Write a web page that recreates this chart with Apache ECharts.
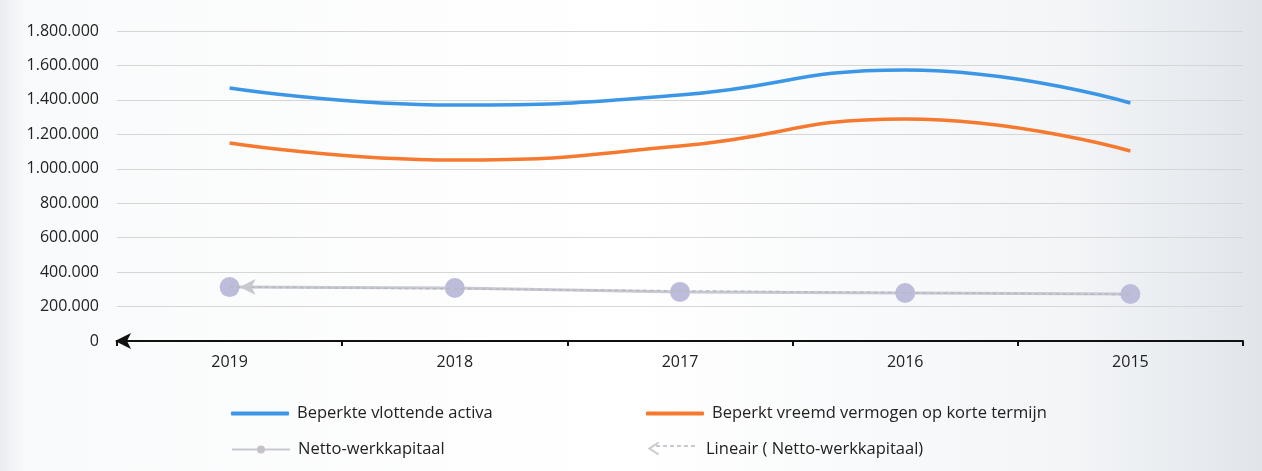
<!DOCTYPE html>
<html>
<head>
<meta charset="utf-8">
<script src="https://cdn.jsdelivr.net/npm/echarts@6/dist/echarts.min.js"></script>
<style>
html,body{margin:0;padding:0;}
#c{width:1262px;height:471px;}
</style>
</head>
<body>
<div id="c"></div>
<script>
const categories = ['2019', '2018', '2017', '2016', '2015'];
const vlottendeActiva = [1469000, 1370000, 1428000, 1574000, 1382000];
const vreemdVermogen = [1150000, 1051000, 1132000, 1289000, 1103000];
const nettoWerkkapitaal = [313000, 308000, 285000, 279000, 273000];
const seriesNames = ['Beperkte vlottende activa', 'Beperkt vreemd vermogen op korte termijn', 'Netto-werkkapitaal', 'Lineair ( Netto-werkkapitaal)'];

// Linear trend (least squares) of Netto-werkkapitaal, as the spreadsheet trendline does
const n = nettoWerkkapitaal.length;
let sx = 0, sy = 0, sxy = 0, sxx = 0;
nettoWerkkapitaal.forEach((v, i) => { const x = i + 1; sx += x; sy += v; sxy += x * v; sxx += x * x; });
const slope = (n * sxy - sx * sy) / (n * sxx - sx * sx);
const intercept = (sy - slope * sx) / n;
const trend = nettoWerkkapitaal.map((v, i) => intercept + slope * (i + 1));

const fmt = v => String(v).replace(/\B(?=(\d{3})+(?!\d))/g, '.');
const font = '"Open Sans", "Liberation Sans", sans-serif';

const chart = echarts.init(document.getElementById('c'));
const legendBase = (name, left, top, extra) => Object.assign({
  data: [{ name: name }], left: left, top: top, itemWidth: 58, itemHeight: 4, itemGap: 0,
  selectedMode: false,
  textStyle: { color: '#222', fontSize: 16.5, fontFamily: font, padding: [0, 0, 0, 3] }
}, extra || {});
chart.setOption({
  animation: false,
  backgroundColor: {
    type: 'linear', x: 0, y: 0, x2: 1, y2: 0,
    colorStops: [
      { offset: 0, color: '#e9ecef' }, { offset: 0.02, color: '#f9fafb' },
      { offset: 0.5, color: '#ffffff' }, { offset: 0.85, color: '#f3f5f7' }, { offset: 1, color: '#e1e5ea' }
    ]
  },
  grid: { left: 117, right: 19, top: 31, bottom: 130, containLabel: false },
  legend: [
    legendBase(seriesNames[0], 226, 400, { data: [{ name: seriesNames[0], icon: 'roundRect' }] }),
    legendBase(seriesNames[1], 641, 400, { data: [{ name: seriesNames[1], icon: 'roundRect' }] }),
    legendBase(seriesNames[2], 226, 436, { itemHeight: 10, data: [{ name: seriesNames[2], itemStyle: { color: '#c4c4c8' } }] }),
    legendBase(seriesNames[3], 637, 436, { itemWidth: 56, itemHeight: 10, data: [{ name: seriesNames[3], icon: 'none' }] })
  ],
  graphic: [
    // legend glyph for the trendline: small arrow head followed by dashes
    { type: 'polyline', left: 647, top: 440, shape: { points: [[9, 0], [0, 6], [9, 12]] }, style: { stroke: '#c8c8d0', lineWidth: 2, fill: null } },
    { type: 'line', shape: { x1: 656, y1: 446, x2: 697, y2: 446 }, style: { stroke: '#b8b8c0', lineWidth: 1.5, lineDash: [4, 3] } }
  ],
  xAxis: {
    type: 'category', data: categories, boundaryGap: true,
    axisLine: { show: true, lineStyle: { color: '#111', width: 2 }, symbol: ['arrow', 'none'], symbolSize: [12, 16], symbolOffset: [-2, 0] },
    axisTick: { show: true, length: 5, lineStyle: { color: '#111', width: 2 } },
    axisLabel: { color: '#222', fontSize: 16, fontFamily: font, margin: 13 }
  },
  yAxis: {
    type: 'value', min: 0, max: 1800000, interval: 200000,
    axisLine: { show: false }, axisTick: { show: false },
    axisLabel: { color: '#222', fontSize: 16, fontFamily: font, margin: 18, formatter: v => fmt(v) },
    splitLine: { lineStyle: { color: '#d6d6d6', width: 1 } }
  },
  series: [
    {
      name: seriesNames[0], type: 'line', data: vlottendeActiva, smooth: 0.5, symbol: 'none',
      lineStyle: { color: '#3c96e6', width: 3.5 }, itemStyle: { color: '#3c96e6' }
    },
    {
      name: seriesNames[1], type: 'line', data: vreemdVermogen, smooth: 0.5, symbol: 'none',
      lineStyle: { color: '#f57a30', width: 3.5 }, itemStyle: { color: '#f57a30' }
    },
    {
      name: seriesNames[2], type: 'line', data: nettoWerkkapitaal, symbol: 'circle', symbolSize: 20,
      lineStyle: { color: '#c9c9d3', width: 3 }, itemStyle: { color: '#bdbddb' }, z: 3
    },
    {
      name: seriesNames[3], type: 'line',
      data: trend.map((v, i) => i === 0 ? { value: v, symbol: 'arrow', symbolSize: [12, 16], symbolRotate: 90, symbolOffset: [10, 0] } : v),
      symbol: 'none', showSymbol: true,
      lineStyle: { color: '#b8b8c0', width: 1.5, type: [4, 3] }, itemStyle: { color: '#c8c8d0' }, z: 4
    }
  ]
});
</script>
</body>
</html>
